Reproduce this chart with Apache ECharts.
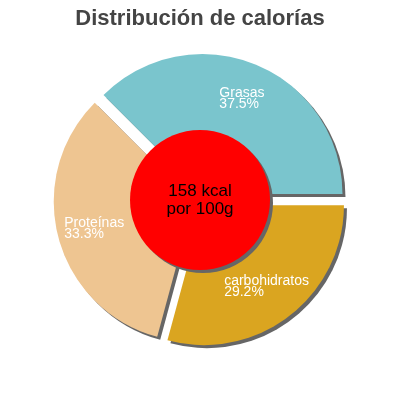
<!DOCTYPE html>
<html lang="es">
  <head>
    <meta charset="UTF-8" />
    <title>Distribución de calorías</title>
    <script src="https://cdn.jsdelivr.net/npm/echarts@6/dist/echarts.min.js"></script>
    <style>
      * {
        margin: 0;
        padding: 0;
      }
    </style>
  </head>
  <body>
    <div id="charts" style="width: 400px; height: 400px"></div>
    <script>
      var categories = ["Grasas", "Proteínas", "carbohidratos"];
      var percents = [37.5, 33.3, 29.2];
      var centerLines = ["158 kcal", "por 100g"];
      var colors = ["#7AC5CD", "#EEC591", "#DAA520"];

      var myEcharts = echarts.init(document.getElementById("charts"));
      var font = "Liberation Sans, Arial, sans-serif";

      var slices = categories.map((name, i) => ({
        name: name,
        value: percents[i],
        selected: true,
        itemStyle: { color: colors[i] },
      }));
      var labelSlices = categories.map((name, i) => ({
        name: name,
        value: percents[i],
        selected: true,
      }));

      var common = {
        type: "pie",
        center: [200, 200],
        startAngle: 0,
        clockwise: false,
        selectedMode: "multiple",
        selectedOffset: 6.5,
        animation: false,
        emphasis: { disabled: true },
      };

      var options = {
        title: {
          text: "Distribución de calorías",
          left: "center",
          top: 3,
          textStyle: {
            fontFamily: font,
            fontSize: 22,
            fontWeight: "bold",
            color: "#444444",
          },
        },
        series: [
          Object.assign({}, common, {
            radius: [0, 140],
            data: slices,
            label: { show: false },
            labelLine: { show: false },
            itemStyle: {
              borderWidth: 0,
              shadowColor: "#666666",
              shadowOffsetX: 3,
              shadowOffsetY: 3,
              shadowBlur: 0,
            },
          }),
          // transparent ring only to place labels further out
          Object.assign({}, common, {
            radius: [68, 132],
            silent: true,
            data: labelSlices,
            itemStyle: { color: "transparent", borderWidth: 0 },
            label: {
              show: true,
              position: "inside",
              formatter: "{t|{b}}\n{t|{c}%}",
              rich: {
                t: {
                  align: "left",
                  color: "#ffffff",
                  fontFamily: font,
                  fontSize: 14,
                  lineHeight: 11,
                },
              },
            },
            labelLine: { show: false },
          }),
          {
            type: "pie",
            center: [200, 200],
            radius: [0, 70],
            silent: true,
            animation: false,
            data: [{ name: centerLines.join("\n"), value: 1 }],
            itemStyle: {
              color: "#FF0000",
              borderWidth: 0,
              shadowColor: "#666666",
              shadowOffsetX: 3,
              shadowOffsetY: 3,
              shadowBlur: 0,
            },
            label: {
              show: true,
              position: "center",
              formatter: "{b}",
              color: "#000000",
              fontFamily: font,
              fontSize: 17,
              lineHeight: 18,
            },
            labelLine: { show: false },
          },
        ],
      };
      myEcharts.setOption(options);
    </script>
  </body>
</html>
